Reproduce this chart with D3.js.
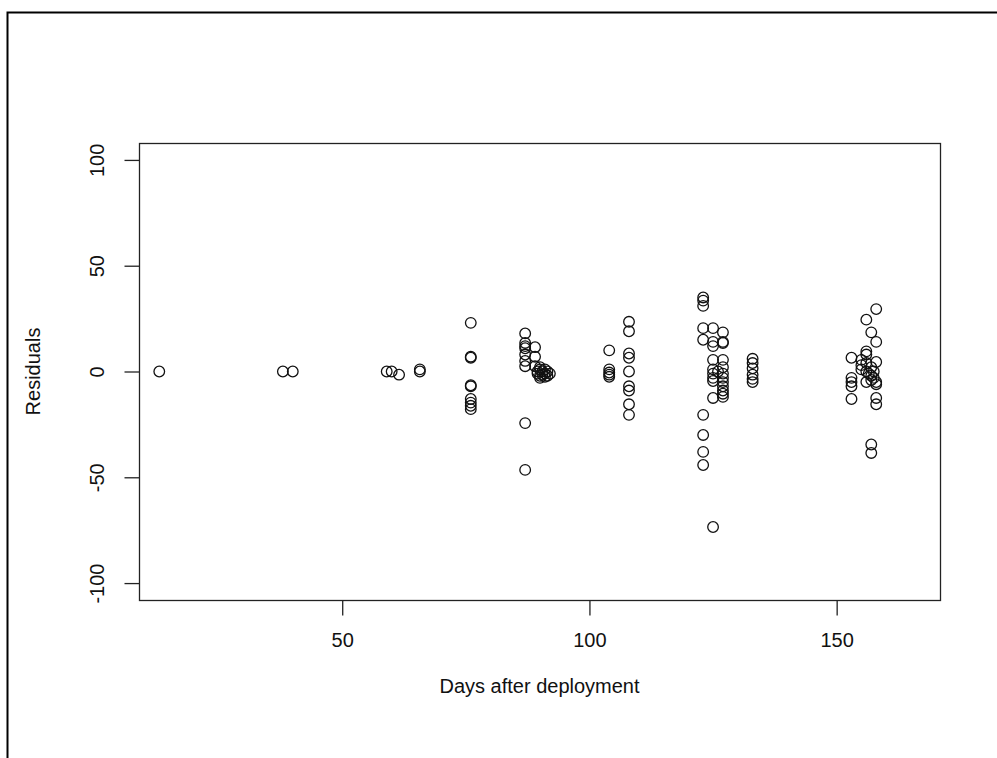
<!DOCTYPE html>
<meta charset="utf-8">
<head>
<style>
  body { margin: 0; background: #fff; }
  text { font-family: "Liberation Sans", Arial, sans-serif; fill: #111; }
</style>
</head>
<body>
<svg id="chart"></svg>
<script src="https://d3js.org/d3.v7.min.js"></script>
<script>

// days after deployment and the residual for each point
var days = [13, 38, 40, 59, 60, 61.5, 65.7, 65.7,
  76, 76, 76, 76, 76, 76, 76, 76, 76,
  87, 87, 87, 87, 87, 87, 87, 87, 87,
  89, 89, 89, 89.5, 90, 90, 90, 90.5, 90.5, 91, 91, 91, 91.5, 91.5, 92, 90, 89.5,
  104, 104, 104, 104, 104,
  108, 108, 108, 108, 108, 108, 108, 108, 108,
  123, 123, 123, 123, 123, 123, 123, 123, 123,
  125, 125, 125, 125, 125, 125, 125, 125, 125, 125,
  127, 127, 127, 127, 127, 127, 127, 127, 127, 127, 127, 127, 126,
  133, 133, 133, 133, 133, 133,
  153, 153, 153, 153, 153, 155, 155, 155, 156, 156, 157, 156, 156, 156, 156.5,
  157, 157, 157, 157.5, 158, 158, 158, 158, 158, 158, 158, 157, 157, 157.5, 156];
var resid = [0, 0, 0, 0, 0, -1.5, 1, 0,
  23, 7, 6.5, -6.5, -7, -13, -14.7, -16.2, -17.8,
  18, 13.5, 12, 11, 8, 5, 2.5, -24.4, -46.5,
  11.5, 7, 2.5, -1, 1, -2, -3, 0, -1.5, 1, -1, -2.5, 0, -2, -1, 2, 0,
  10, 1, -0.5, -1.5, -2.5,
  23.5, 19, 8.5, 6.5, 0, -7, -9, -15.5, -20.5,
  35, 33.5, 31, 20.5, 15, -20.5, -30, -38, -44.2,
  20.5, 14, 12, 5.5, 1, -1, -3, -4.5, -12.5, -73.5,
  18.5, 13.5, 14, 5.5, 2, -1, -3, -5, -7, -9, -10.5, -12, 0,
  6, 4, 1.5, -1.5, -3.5, -5,
  6.5, -3, -5, -7, -13, 5.5, 3, 1, 8, 24.5, 18.5, 9.5, 4, 0, -1,
  2, -2, -4, 0, 29.5, 14, 4.5, -5, -6, -12.5, -15.5, -34.5, -38.5, -3, -5];

var xTicks = [50, 100, 150];
var yTicks = [-100, -50, 0, 50, 100];

var W = 997, H = 758;
var box = {left: 139, right: 940, top: 143, bottom: 600};
var fontSize = "20px";

var data = days.map(function(d, i) { return {day: d, res: resid[i]}; });

var svg = d3.select("#chart")
    .attr("width", W)
    .attr("height", H);

svg.append("rect").attr("width", W).attr("height", H).attr("fill", "#fff");

// outer frame, only top and left edges show
svg.append("path")
    .attr("d", "M7.5,758V12.5H997")
    .attr("fill", "none")
    .attr("stroke", "#000")
    .attr("stroke-width", 2);

var x = d3.scaleLinear()
    .domain([8.9, 170.9])
    .range([box.left, box.right]);

var y = d3.scaleLinear()
    .domain([-108, 108])
    .range([box.bottom, box.top]);

svg.append("rect")
    .attr("x", box.left + 0.5)
    .attr("y", box.top + 0.5)
    .attr("width", box.right - box.left)
    .attr("height", box.bottom - box.top)
    .attr("fill", "none")
    .attr("stroke", "#222")
    .attr("stroke-width", 1.3);

// R prints a plain hyphen for negatives
var plain = function(d) { return String(d); };

var xAxis = d3.axisBottom(x).tickValues(xTicks).tickFormat(plain).tickSize(15).tickPadding(17);
var yAxis = d3.axisLeft(y).tickValues(yTicks).tickFormat(plain).tickSize(15);

var gx = svg.append("g")
    .attr("transform", "translate(0," + (box.bottom + 0.5) + ")")
    .call(xAxis);
gx.select(".domain").remove();
gx.selectAll("line").attr("stroke", "#222").attr("stroke-width", 1.3);
gx.selectAll("text").style("font-size", fontSize).attr("font-family", null);

var gy = svg.append("g")
    .attr("transform", "translate(" + (box.left + 0.5) + ",0)")
    .call(yAxis);
gy.select(".domain").remove();
gy.selectAll("line").attr("stroke", "#222").attr("stroke-width", 1.3);
gy.selectAll("text")
    .attr("x", null).attr("dy", null)
    .attr("transform", "translate(-36,0) rotate(-90)")
    .style("text-anchor", "middle")
    .style("font-size", fontSize)
    .attr("font-family", null);

svg.append("text")
    .attr("x", (box.left + box.right) / 2)
    .attr("y", 693)
    .style("text-anchor", "middle")
    .style("font-size", fontSize)
    .text("Days after deployment");

svg.append("text")
    .attr("transform", "translate(40," + y(0) + ") rotate(-90)")
    .style("text-anchor", "middle")
    .style("font-size", fontSize)
    .text("Residuals");

svg.selectAll(".dot")
    .data(data)
  .enter().append("circle")
    .attr("class", "dot")
    .attr("cx", function(d) { return x(d.day); })
    .attr("cy", function(d) { return y(d.res); })
    .attr("r", 5.3)
    .attr("fill", "none")
    .attr("stroke", "#111")
    .attr("stroke-width", 1.3);

</script>
</body>
